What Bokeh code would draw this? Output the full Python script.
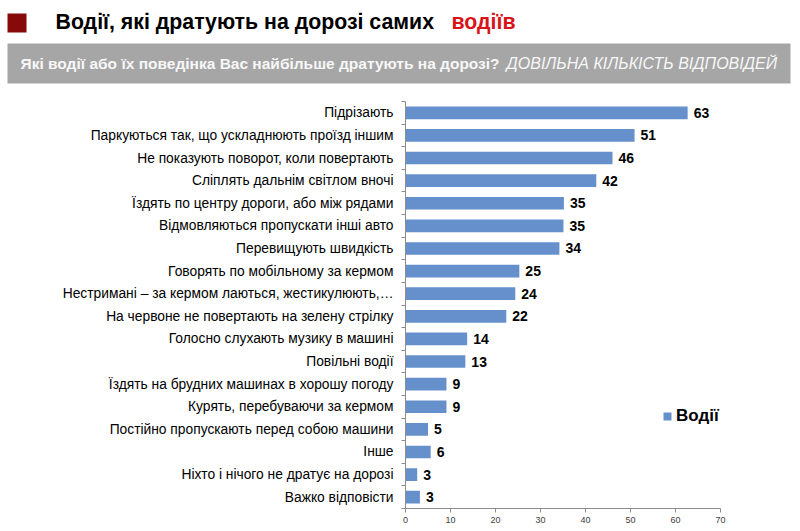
from bokeh.plotting import figure
from bokeh.models import Range1d, FixedTicker, Legend, LegendItem, ColumnDataSource
from bokeh.core.properties import value
from bokeh.embed import file_html
from bokeh.resources import INLINE

# ---------------- data ----------------
categories = [
    "Підрізають",
    "Паркуються так, що ускладнюють проїзд іншим",
    "Не показують поворот, коли повертають",
    "Сліплять дальнім світлом вночі",
    "Їздять по центру дороги, або між рядами",
    "Відмовляються пропускати інші авто",
    "Перевищують швидкість",
    "Говорять по мобільному за кермом",
    "Нестримані – за кермом лаються, жестикулюють,…",
    "На червоне не повертають на зелену стрілку",
    "Голосно слухають музику в машині",
    "Повільні водії",
    "Їздять на брудних машинах в хорошу погоду",
    "Курять, перебуваючи за кермом",
    "Постійно пропускають перед собою машини",
    "Інше",
    "Ніхто і нічого не дратує на дорозі",
    "Важко відповісти",
]
values = [62.7, 50.9, 46.0, 42.4, 35.2, 35.1, 34.2, 25.3, 24.4, 22.4,
          13.7, 13.3, 9.1, 9.1, 5.0, 5.6, 2.6, 3.2]
labels = ["63", "51", "46", "42", "35", "35", "34", "25", "24", "22",
          "14", "13", "9", "9", "5", "6", "3", "3"]
x_ticks = [0, 10, 20, 30, 40, 50, 60, 70]
series_name = "Водії"
title_main = "Водії, які дратують на дорозі самих"
title_accent = "водіїв"
subtitle_main = "Які водії або їх поведінка Вас найбільше дратують на дорозі?"
subtitle_note = "ДОВІЛЬНА КІЛЬКІСТЬ ВІДПОВІДЕЙ"

FONT = "Liberation Sans"
W = 792
HEAD_H = 96
MAIN_H = 431

# ---------------- header (own root, pixel-like data space) ----------------
head = figure(width=W, height=HEAD_H, x_range=Range1d(0, W), y_range=Range1d(HEAD_H, 0),
              output_backend="svg", toolbar_location=None, min_border=0,
              x_axis_location=None, y_axis_location=None, outline_line_color=None)
head.xgrid.grid_line_color = None
head.ygrid.grid_line_color = None
head.quad(left=[7], right=[26], top=[13], bottom=[32], fill_color="#870a0a", line_color=None)
head.text(x=[55], y=[21], text=[title_main], text_font=value(FONT), text_font_style="bold",
          text_font_size="21.3px", text_baseline="middle", text_color="#000000")
head.text(x=[451], y=[21], text=[title_accent], text_font=value(FONT), text_font_style="bold",
          text_font_size="21.3px", text_baseline="middle", text_color="#d91418")
head.quad(left=[7], right=[790], top=[43], bottom=[83], fill_color="#a6a6a6", line_color=None)
head.text(x=[20], y=[63], text=[subtitle_main], text_font=value(FONT), text_font_style="bold",
          text_font_size="15.5px", text_baseline="middle", text_color="#f7f7f7")
head.text(x=[506], y=[63], text=[subtitle_note], text_font=value(FONT), text_font_style="italic",
          text_font_size="16px", text_baseline="middle", text_color="#f7f7f7")

# ---------------- main chart ----------------
n = len(categories)
idx = list(range(n))
src = ColumnDataSource(dict(y=idx, value=values, label=labels))

p = figure(width=W, height=MAIN_H, x_range=Range1d(0, 70), y_range=Range1d(n - 0.5, -0.5),
           output_backend="svg", toolbar_location=None,
           min_border_left=405, min_border_right=72, min_border_top=5, min_border_bottom=19,
           outline_line_color=None)
p.xgrid.grid_line_color = None
p.ygrid.grid_line_color = None

bars = p.hbar(y="y", left=0, right="value", height=0.56, source=src,
              fill_color="#6690cc", line_color=None)
p.text(x="value", y="y", text="label", source=src, x_offset=6, text_baseline="middle",
       text_align="left", text_font=value(FONT), text_font_style="bold", text_font_size="14px",
       text_color="#000000")

ax_col = "#8c8c8c"
p.xaxis.ticker = FixedTicker(ticks=x_ticks)
p.xaxis.axis_line_color = ax_col
p.xaxis.major_tick_line_color = ax_col
p.xaxis.major_tick_out = 4
p.xaxis.major_tick_in = 0
p.xaxis.minor_tick_line_color = None
p.xaxis.major_label_standoff = 4
p.xaxis.major_label_text_font = FONT
p.xaxis.major_label_text_font_size = "9px"
p.xaxis.major_label_text_color = "#404040"

p.yaxis.ticker = FixedTicker(ticks=idx, minor_ticks=[i - 0.5 for i in range(n + 1)])
p.yaxis.major_label_overrides = {i: c for i, c in enumerate(categories)}
p.yaxis.axis_line_color = ax_col
p.yaxis.major_tick_line_color = None
p.yaxis.major_tick_out = 0
p.yaxis.major_tick_in = 0
p.yaxis.minor_tick_line_color = ax_col
p.yaxis.minor_tick_out = 4
p.yaxis.minor_tick_in = 0
p.yaxis.major_label_standoff = 8
p.yaxis.major_label_text_font = FONT
p.yaxis.major_label_text_font_size = "13.8px"
p.yaxis.major_label_text_color = "#000000"

legend = Legend(items=[LegendItem(label=series_name, renderers=[bars])],
                location=(257, 82), orientation="vertical",
                border_line_color=None, background_fill_alpha=0,
                padding=0, margin=0, spacing=0,
                glyph_width=10, glyph_height=10, label_standoff=4,
                label_text_font=FONT, label_text_font_style="bold",
                label_text_font_size="17px", label_text_color="#000000")
p.add_layout(legend)

open("out.html", "w").write(file_html([head, p], INLINE))
